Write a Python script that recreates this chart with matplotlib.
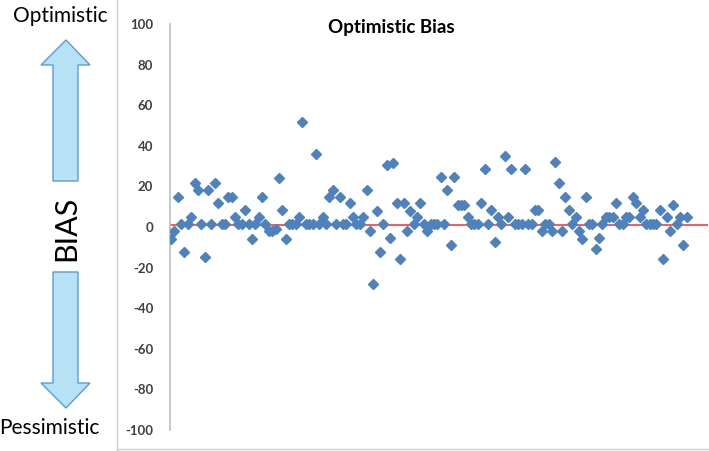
import matplotlib
matplotlib.use("Agg")
import matplotlib.pyplot as plt
from matplotlib.patches import Polygon
from matplotlib.lines import Line2D
import numpy as np

plt.rcParams['font.family'] = ['Lato', 'DejaVu Sans']

# bias values, left to right
bias = [
    -6, -2, 15, 1.5, -12.5, 1.5, 5, 21.7, 18, 1.5,
    -15, 18, 1.5, 21.7, 11.7, 1.5, 1.5, 15, 15, 5,
    1.5, 1.5, 8.4, 1.5, -6, 1.5, 5, 15, 1.5, -2,
    -2, -1, 24, 8.4, -6, 1.5, 1.5, 1.5, 5, 51.5,
    1.5, 1.5, 1.5, 35.8, 1.5, 5, 1.5, 15, 18, 1.5,
    15, 1.5,
    1.5, 11.7, 5, 1.5, 1.5, 5, 18, -2, -28, 8,
    -12.5, 1.5, 30.7, -5.6, 31.5, 11.7, -15.8, 11.7, -2, 8,
    1.5, 5, 11.7, 1.5, -2, 1.5, 1.5,
    1.5, 24.8, 1.5, 18, -9, 24.8, 10.8, 10.8, 10.8, 5,
    1.5, 1.5, 1.5, 11.7, 28.4, 1.5, 8.4, -7.5, 5, 1.5,
    34.8, 5, 28.4, 1.5, 1.5, 1.5, 28.4,
    1.5, 1.5, 8.4, 8.4, -2, 1.5, 1.5, -2, 31.9, 21.7, -2,
    15, 8.4, 1.5, 5, -2, -6, 15, 1.5, 1.5, -10.8,
    -5.6, 1.5, 5, 5, 5, 11.7,
    1.5, 1.5, 5, 5, 15, 11.7, 5, 8.4, 1.5, 1.5,
    1.5, 1.5, 8.4, -15.8, 5, -2, 10.8, 1.5, 5, -9,
    5,
]
ref_level = 1
y_ticks = [-100, -80, -60, -40, -20, 0, 20, 40, 60, 80, 100]

W, H = 709, 451
fig = plt.figure(figsize=(W / 100, H / 100), dpi=100)

def fx(px):
    return px / W

def fy(py):
    return 1 - py / H

ax = fig.add_axes([fx(170), fy(430), fx(708 - 170), (430 - 24) / H])
x = np.arange(len(bias))
ax.plot(x, bias, linestyle='none', marker='D', markersize=5.5,
        color='#4F81BD', zorder=3)
ax.axhline(ref_level, color='#FF3B3B', linewidth=1.2, zorder=2)

ax.set_ylim(-100, 100)
ax.set_xlim(-0.3, 159.3)
ax.set_yticks(y_ticks)
ax.set_yticklabels([str(t) for t in y_ticks], fontweight='bold',
                   fontsize=9.5, color='#404040')
ax.tick_params(axis='y', length=0, pad=12)
ax.set_xticks([])
for s in ['top', 'right', 'bottom']:
    ax.spines[s].set_visible(False)
ax.spines['left'].set_color('#BFBFBF')
ax.spines['left'].set_linewidth(1.2)

fig.text(fx(391), fy(27), 'Optimistic Bias', ha='center', va='center',
         fontsize=13.5, fontweight='bold', color='black')

# chart frame on left and bottom
fig.add_artist(Line2D([fx(117), fx(117)], [0, 1], color='#D0D0D0', lw=1))
fig.add_artist(Line2D([fx(117), 1], [fy(449), fy(449)], color='#D0D0D0', lw=1))

# left side arrows
fill, edge = '#B7E2F6', '#5B9BD5'
up = [(66, 40), (90, 65), (78, 65), (78, 181), (53, 181), (53, 65), (41, 65)]
down = [(66, 408), (90, 383), (78, 383), (78, 272), (53, 272), (53, 383), (41, 383)]
for pts in (up, down):
    fig.add_artist(Polygon([(fx(a), fy(b)) for a, b in pts], closed=True,
                           facecolor=fill, edgecolor=edge, lw=1,
                           transform=fig.transFigure))

fig.text(fx(60), fy(16), 'Optimistic', ha='center', va='center',
         fontsize=15, color='black')
fig.text(fx(49), fy(428), 'Pessimistic', ha='center', va='center',
         fontsize=15, color='black')
fig.text(fx(66), fy(228), 'BIAS', ha='center', va='center',
         fontsize=22, rotation=90, color='black')

fig.savefig('out.png', dpi=100)
